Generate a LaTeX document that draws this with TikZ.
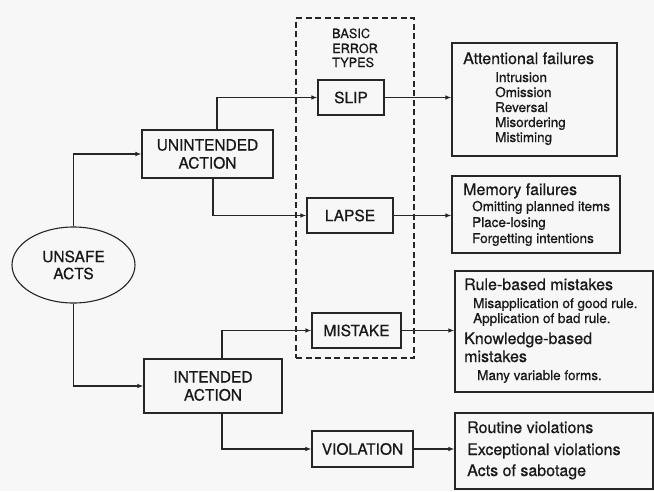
\documentclass[tikz,border=0pt]{standalone}
\usepackage{fontspec}
\setmainfont{TeX Gyre Heros}[FakeBold=0.7]
\usetikzlibrary{arrows.meta,shapes.geometric}
\begin{document}
\begin{tikzpicture}[x=1pt,y=-1pt,
  ln/.style={line width=1.1pt, draw=black!85},
  box/.style={ln, rectangle, inner sep=0pt, font=\fontsize{15.5}{18}\selectfont, align=center, text=black!90},
  plain/.style={ln, rectangle, inner sep=0pt},
  arr/.style={ln, -{Latex[length=6pt,width=4.5pt]}},
  big/.style={anchor=base west, inner sep=0pt, font=\fontsize{16}{18}\selectfont, text=black!90},
  small/.style={anchor=base west, inner sep=0pt, font=\fontsize{13.5}{15}\selectfont, text=black!90},
  tiny/.style={anchor=base west, inner sep=0pt, font=\fontsize{12.7}{14.5}\selectfont, text=black!90},
]
\fill[black!3] (0,0) rectangle (654,491);
\useasboundingbox (0,0) rectangle (654,491);

% dashed group
\node[ln, dash pattern=on 6pt off 3.5pt, rectangle, inner sep=0pt, minimum width=118, minimum height=340] (basic) at (355,188) {};
\node[tiny] (t1) at (332,38) {BASIC};
\node[tiny] (t2) at (332,53) {ERROR};
\node[tiny] (t3) at (332,67) {TYPES};

% main nodes
\node[ln, ellipse, minimum width=123, minimum height=76, inner sep=0pt, align=center,
      font=\fontsize{15.5}{17}\selectfont, text=black!90] (unsafe) at (73.5,265) {UNSAFE\\ACTS};
\node[box, minimum width=131, minimum height=48] (unint) at (207.5,154) {UNINTENDED\\ACTION};
\node[box, minimum width=138, minimum height=54] (intend) at (213,386) {INTENDED\\ACTION};
\node[box, minimum width=66, minimum height=35] (slip) at (351,97.5) {SLIP};
\node[box, minimum width=86, minimum height=35] (lapse) at (350,215.5) {LAPSE};
\node[box, minimum width=89, minimum height=35] (mistake) at (356.5,330.5) {MISTAKE};
\node[box, minimum width=101, minimum height=36] (violation) at (362.5,449) {VIOLATION};

% right boxes
\node[plain, minimum width=165, minimum height=113] (attn) at (534.5,99.5) {};
\node[plain, minimum width=168, minimum height=77] (mem) at (536,214.5) {};
\node[plain, minimum width=198, minimum height=121] (rule) at (554,331.5) {};
\node[plain, minimum width=198, minimum height=76] (viol) at (554,451) {};

% texts in right boxes
\node[big] (a0) at (463,64) {Attentional failures};
\node[small] (a1) at (495,82) {Intrusion};
\node[small] (a2) at (495,97) {Omission};
\node[small] (a3) at (495,112) {Reversal};
\node[small] (a4) at (495,127) {Misordering};
\node[small] (a5) at (495,142) {Mistiming};

\node[big] (m0) at (463,195) {Memory failures};
\node[small] (m1) at (472,211) {Omitting planned items};
\node[small] (m2) at (472,227) {Place-losing};
\node[small] (m3) at (472,243) {Forgetting intentions};

\node[big] (r0) at (464,290) {Rule-based mistakes};
\node[small] (r1) at (473,308) {Misapplication of good rule.};
\node[small] (r2) at (473,323) {Application of bad rule.};
\node[big] (r3) at (464,344) {Knowledge-based};
\node[big] (r4) at (464,362) {mistakes};
\node[small] (r5) at (477,380) {Many variable forms.};

\node[big] (v1) at (467,433) {Routine violations};
\node[big] (v2) at (467,455) {Exceptional violations};
\node[big] (v3) at (467,476) {Acts of sabotage};

% connectors
\draw[arr] (unsafe.north) |- (unint.west);
\draw[arr] (unsafe.south) |- (intend.west);
\draw[arr] ([xshift=9.5pt]unint.north) |- (slip.west);
\draw[arr] ([xshift=5.5pt]unint.south) |- (lapse.west);
\draw[arr] ([xshift=9pt]intend.north) |- (mistake.west);
\draw[arr] ([xshift=9pt]intend.south) |- (violation.west);
\draw[arr] (slip.east) -- (slip.east -| attn.west);
\draw[arr] (lapse.east) -- (lapse.east -| mem.west);
\draw[arr] (mistake.east) -- (mistake.east -| rule.west);
\draw[arr] (violation.east) -- (violation.east -| viol.west);
\end{tikzpicture}
\end{document}
